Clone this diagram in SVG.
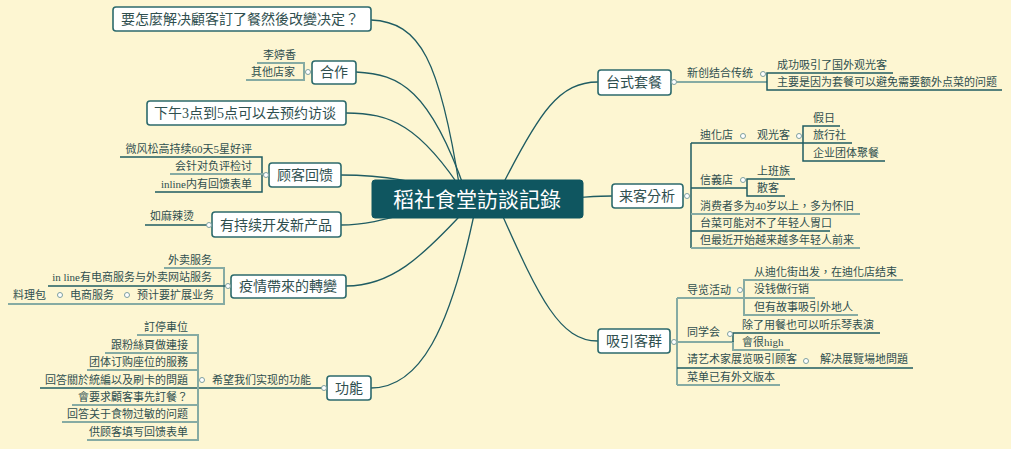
<svg xmlns="http://www.w3.org/2000/svg" width="1011" height="449" viewBox="0 0 1011 449">
<style>
text{font-family:"Liberation Serif","Noto Sans CJK TC","Noto Sans CJK SC",serif;fill:#2f4f4f}
.s{font-size:11px}
.m{font-size:14px}
.r{text-anchor:end}
.box{fill:#fff;stroke:#2c6a6c;stroke-width:1.6}
.d{stroke:#1f5c62;stroke-width:1.5;fill:none}
.l{stroke:#86aba3;stroke-width:2;fill:none}
.c{fill:#fff;stroke:#7d9fa0;stroke-width:1}
.cv{stroke:#1f5c62;stroke-width:1.3;fill:none}
</style>
<rect width="1011" height="449" fill="#fdf6d2"/>
<g id="connectors">
<path class="cv" d="M460 190 C440 60 420 22 371 20"/>
<path class="cv" d="M465 190 C430 90 400 74 356 72"/>
<path class="cv" d="M465 195 C420 125 390 113 346 113"/>
<path class="cv" d="M470 199 C420 180 380 175 341 175"/>
<path class="cv" d="M470 199 C410 210 380 225 341 225"/>
<path class="cv" d="M470 205 C420 260 390 286 346 286"/>
<path class="cv" d="M475 210 C450 330 420 388 371 388"/>
<path class="cv" d="M500 190 C540 110 560 82 598 82"/>
<path class="cv" d="M520 199 C570 199 590 196 612 196"/>
<path class="cv" d="M500 210 C540 300 560 341 598 341"/>
</g>
<g id="root"><rect x="372" y="180" width="211" height="38" rx="3" fill="#0f5660" stroke="#0f5660"/><text x="477" y="207" text-anchor="middle" style="font-size:21px;fill:#fff">稻社食堂訪談記錄</text></g>

<g id="q1"><rect class="box" x="113" y="7" width="258" height="24" rx="3"/><text class="m" x="121" y="24">要怎麼解决顧客訂了餐然後改變决定？</text></g>

<g id="hezuo"><rect class="box" x="312" y="61" width="44" height="23" rx="3"/><text class="m" x="334" y="77" text-anchor="middle">合作</text>
<path class="l" d="M257 63H304V80H246"/><circle class="c" cx="308" cy="72" r="2.5"/>
<text class="s" x="263" y="59">李婷香</text><text class="s" x="251" y="76">其他店家</text></g>

<g id="q2"><rect class="box" x="147" y="101" width="199" height="24" rx="3"/><text class="m" x="154" y="118">下午3点到5点可以去预约访谈</text></g>

<g id="fankui"><rect class="box" x="269" y="163" width="72" height="24" rx="3"/><text class="m" x="305" y="180" text-anchor="middle">顾客回馈</text>
<path class="d" d="M120 157H262V192H155"/><path class="l" d="M170 174H266"/><circle class="c" cx="266" cy="175" r="2.5"/>
<text class="s r" x="252" y="153">微风松高持续60天5星好评</text><text class="s r" x="252" y="170">会针对负评检讨</text><text class="s r" x="252" y="188">inline内有回馈表单</text></g>

<g id="kaifa"><rect class="box" x="212" y="212" width="129" height="25" rx="3"/><text class="m" x="276" y="230" text-anchor="middle">有持续开发新产品</text>
<path class="d" d="M145 225H209"/><circle class="c" cx="209" cy="225" r="2.5"/><text class="s" x="150" y="220">如麻辣烫</text></g>

<g id="yiqing"><rect class="box" x="231" y="275" width="115" height="23" rx="3"/><text class="m" x="288" y="291" text-anchor="middle">疫情帶來的轉變</text>
<path class="l" d="M164 268H224V304H8"/><path class="d" d="M48 286H228"/><circle class="c" cx="228" cy="286" r="2.5"/>
<text class="s r" x="212" y="264">外卖服务</text><text class="s r" x="212" y="281">in line有电商服务与外卖网站服务</text>
<text class="s" x="13" y="299">料理包</text><circle class="c" cx="60" cy="295" r="2.5"/><text class="s" x="70" y="299">电商服务</text><circle class="c" cx="127" cy="295" r="2.5"/><text class="s" x="137" y="299">预计要扩展业务</text></g>

<g id="gongneng"><rect class="box" x="327" y="376" width="44" height="24" rx="3"/><text class="m" x="349" y="393" text-anchor="middle">功能</text>
<path class="d" d="M40 388H324"/><circle class="c" cx="324" cy="388" r="2.5"/><text class="s" x="212" y="384">希望我们实现的功能</text><circle class="c" cx="202" cy="380" r="2.5"/>
<path class="l" d="M137 335H198V440H87M105 353H198M87 370H198M72 405H198M62 422H198"/>
<text class="s r" x="188" y="331">訂停車位</text><text class="s r" x="188" y="349">跟粉絲頁做連接</text><text class="s r" x="188" y="366">团体订购座位的服務</text><text class="s r" x="188" y="384">回答關於統編以及刷卡的問題</text><text class="s r" x="188" y="401">會要求顧客事先訂餐？</text><text class="s r" x="188" y="418">回答关于食物过敏的问题</text><text class="s r" x="188" y="436">供顾客填写回馈表单</text></g>

<g id="taocan"><rect class="box" x="598" y="70" width="73" height="25" rx="3"/><text class="m" x="634" y="87" text-anchor="middle">台式套餐</text>
<path class="l" d="M676 82H767"/><circle class="c" cx="674" cy="82" r="2.5"/><text class="s" x="687" y="77">新创结合传统</text><circle class="c" cx="763" cy="74" r="2.5"/>
<path class="d" d="M893 73H767V90H1002"/>
<text class="s" x="777" y="69">成功吸引了国外观光客</text><text class="s" x="777" y="86">主要是因为套餐可以避免需要额外点菜的问题</text></g>

<g id="laike"><rect class="box" x="612" y="184" width="71" height="24" rx="3"/><text class="m" x="647" y="201" text-anchor="middle">来客分析</text>
<circle class="c" cx="687" cy="196" r="2.5"/>
<path class="d" d="M691 143V248M691 143H852M691 188H747M691 231H830M840 126H803V161H885M795 179H747V196H785"/>
<path class="l" d="M691 214H860M691 248H860"/>
<text class="s" x="700" y="139">迪化店</text><circle class="c" cx="743" cy="136" r="2.5"/><text class="s" x="757" y="139">观光客</text><circle class="c" cx="799" cy="136" r="2.5"/>
<text class="s" x="813" y="122">假日</text><text class="s" x="813" y="139">旅行社</text><text class="s" x="813" y="157">企业团体聚餐</text>
<text class="s" x="700" y="184">信義店</text><circle class="c" cx="743" cy="180" r="2.5"/><text class="s" x="757" y="175">上班族</text><text class="s" x="757" y="192">散客</text>
<text class="s" x="700" y="210">消费者多为40岁以上，多为怀旧</text><text class="s" x="700" y="227">台菜可能对不了年轻人胃口</text><text class="s" x="700" y="244">但最近开始越来越多年轻人前来</text></g>

<g id="xiyin"><rect class="box" x="598" y="329" width="72" height="24" rx="3"/><text class="m" x="634" y="346" text-anchor="middle">吸引客群</text>
<circle class="c" cx="674" cy="342" r="2.5"/>
<path class="l" d="M677 298V385M677 298H815M677 342H733V350H790M903 280H744V315H858M677 385H780"/>
<path class="d" d="M880 333H733V342M677 368H913"/>
<text class="s" x="687" y="294">导览活动</text><circle class="c" cx="740" cy="290" r="2.5"/>
<text class="s" x="754" y="276">从迪化街出发，在迪化店结束</text><text class="s" x="754" y="293">没钱做行销</text><text class="s" x="754" y="311">但有故事吸引外地人</text>
<text class="s" x="687" y="336">同学会</text><circle class="c" cx="730" cy="334" r="2.5"/>
<text class="s" x="742" y="329">除了用餐也可以听乐琴表演</text><text class="s" x="742" y="346">會很high</text>
<text class="s" x="687" y="363">请艺术家展览吸引顾客</text><circle class="c" cx="806" cy="361" r="2.5"/><text class="s" x="820" y="363">解决展覽場地問題</text>
<text class="s" x="687" y="381">菜单已有外文版本</text></g>
</svg>
